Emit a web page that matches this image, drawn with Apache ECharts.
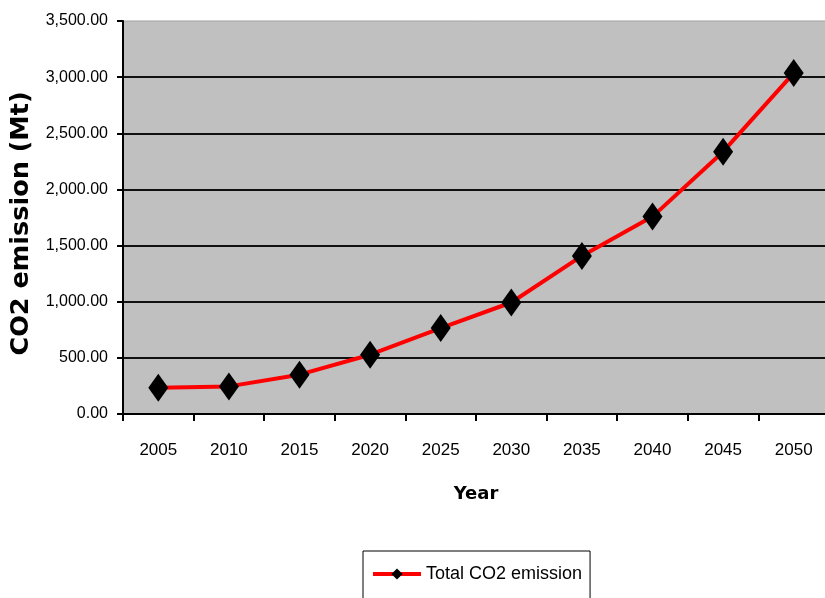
<!DOCTYPE html>
<html>
<head>
<meta charset="utf-8">
<script src="https://cdn.jsdelivr.net/npm/echarts@6/dist/echarts.min.js"></script>
<style>html,body{margin:0;padding:0;background:#fff;}#c{width:825px;height:598px;}</style>
</head>
<body>
<div id="c"></div>
<script>
var years = ['2005','2010','2015','2020','2025','2030','2035','2040','2045','2050'];
var emission = [234, 246, 350, 528, 765, 993, 1408, 1758, 2336, 3036];
var seriesName = 'Total CO2 emission';
var yTitle = 'CO2 emission (Mt)';
var xTitle = 'Year';

var labelFont = "'Liberation Sans', Arial, sans-serif";
var titleFont = "'DejaVu Sans', Verdana, sans-serif";

function fmt(v) {
  var s = v.toFixed(2);
  var parts = s.split('.');
  parts[0] = parts[0].replace(/\B(?=(\d{3})+(?!\d))/g, ',');
  return parts.join('.');
}

var chart = echarts.init(document.getElementById('c'), null, {renderer: 'canvas'});
chart.setOption({
  animation: false,
  backgroundColor: '#ffffff',
  grid: {
    left: 123, top: 21, width: 706, height: 393,
    containLabel: false,
    outerBoundsMode: 'none',
    show: true, backgroundColor: '#c0c0c0', borderColor: '#a0a0a0', borderWidth: 1
  },
  xAxis: {
    type: 'category',
    data: years,
    boundaryGap: true,
    name: xTitle,
    nameLocation: 'middle',
    nameGap: 71,
    nameTextStyle: {fontFamily: titleFont, fontWeight: 'bold', fontSize: 18, color: '#000'},
    axisLine: {lineStyle: {color: '#000', width: 2}},
    axisTick: {show: true, length: 7, lineStyle: {color: '#000', width: 2}},
    axisLabel: {margin: 28, fontFamily: labelFont, fontSize: 17, color: '#000'},
    splitLine: {show: false}
  },
  yAxis: {
    type: 'value',
    min: 0, max: 3500, interval: 500,
    name: yTitle,
    nameLocation: 'middle',
    nameRotate: 90,
    nameGap: 86,
    nameTextStyle: {fontFamily: titleFont, fontWeight: 'bold', fontSize: 25.5, color: '#000', padding: [0, 12, 0, 0]},
    axisLine: {show: true, lineStyle: {color: '#000', width: 2}},
    axisTick: {show: true, length: 6, lineStyle: {color: '#000', width: 2}},
    axisLabel: {margin: 15, fontFamily: labelFont, fontSize: 16, color: '#000', formatter: fmt},
    splitLine: {show: true, showMaxLine: false, showMinLine: false, lineStyle: {color: '#111', width: 2}}
  },
  legend: {
    show: true,
    left: 363, top: 551,
    orient: 'horizontal',
    borderColor: '#000', borderWidth: 1,
    padding: [14, 8, 30, 8],
    itemWidth: 48, itemHeight: 14, itemGap: 6,
    lineStyle: {width: 4},
    textStyle: {fontFamily: labelFont, fontSize: 18, color: '#000'},
    data: [seriesName]
  },
  series: [{
    name: seriesName,
    type: 'line',
    data: emission,
    symbol: 'diamond',
    symbolSize: [20, 28],
    itemStyle: {color: '#000'},
    lineStyle: {color: '#ff0000', width: 4},
    z: 3
  }]
});
</script>
</body>
</html>
